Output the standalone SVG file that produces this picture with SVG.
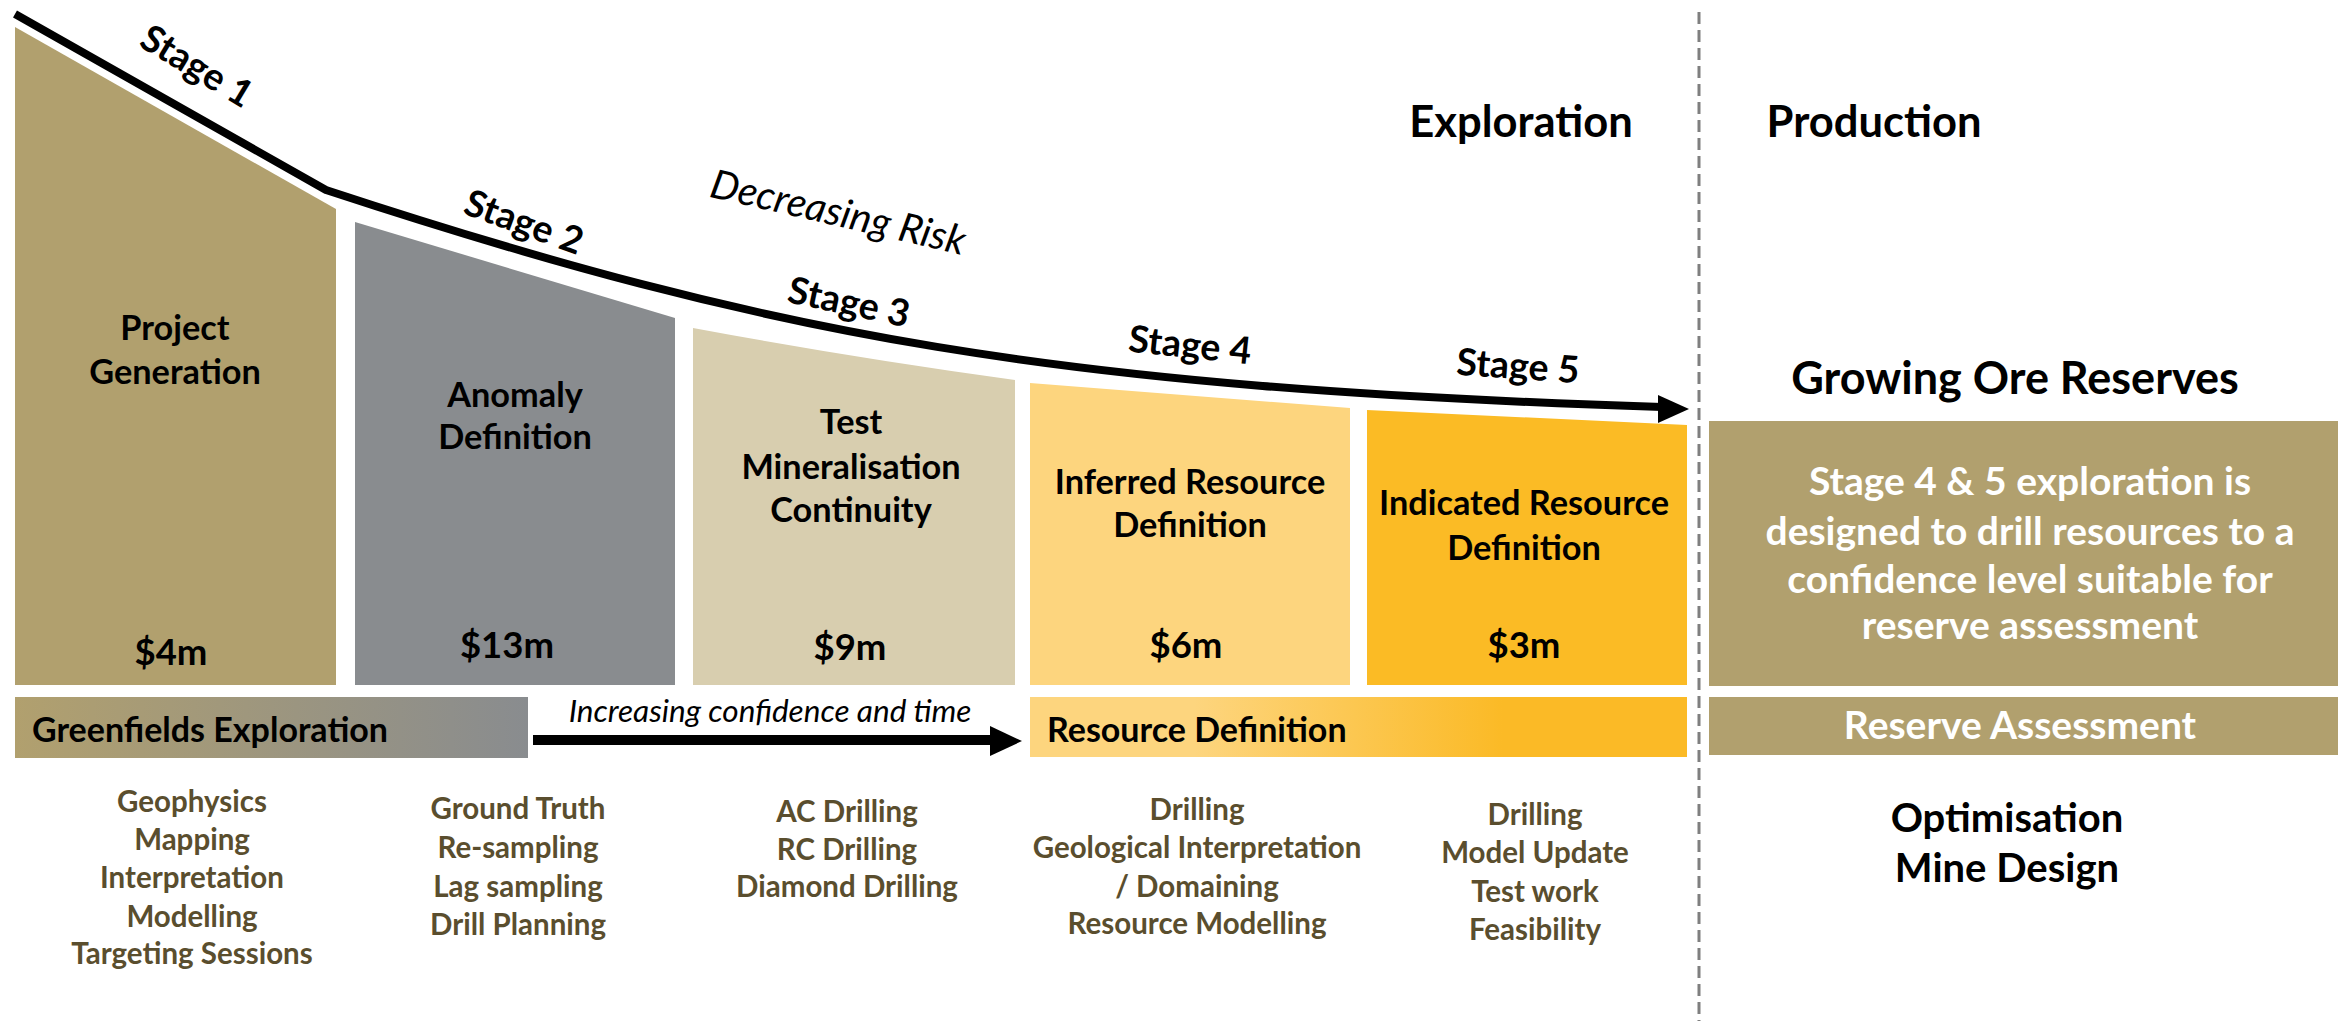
<svg xmlns="http://www.w3.org/2000/svg" width="2338" height="1021" viewBox="0 0 2338 1021">
<defs>
<linearGradient id="gGreen" x1="0" y1="0" x2="1" y2="0">
<stop offset="0" stop-color="#B1A06E"/>
<stop offset="1" stop-color="#898C8F"/>
</linearGradient>
<linearGradient id="gRes" x1="0" y1="0" x2="1" y2="0">
<stop offset="0" stop-color="#FDD57E"/>
<stop offset="0.25" stop-color="#FDD57E"/>
<stop offset="0.72" stop-color="#FBBA26"/>
<stop offset="1" stop-color="#FBBA26"/>
</linearGradient>
<style>
text{font-family:Lato,"Liberation Sans",sans-serif;font-weight:bold;text-anchor:middle;fill:#000}
.stage{font-size:37.5px}
.lbl{font-size:34.3px}
.money{font-size:36.5px}
.big{font-size:43.5px}
.band{font-size:34px;text-anchor:start}
.it{font-style:italic;font-weight:normal}
.list{font-size:29.5px;fill:#5A4E2E}
.wht{fill:#FFFFFF}
.box{font-size:39px}
.conn{fill:none;stroke:#000;stroke-width:8;stroke-linejoin:round}
</style>
</defs>
<rect width="2338" height="1021" fill="#FFFFFF"/>

<g id="stage1">
<path d="M15,27 L336,209 L336,685 L15,685 Z" fill="#B1A06E"/>
<text class="lbl" x="175" y="340">Project</text>
<text class="lbl" x="175" y="384">Generation</text>
<text class="money" x="171" y="665">$4m</text>
</g>
<g id="stage2">
<path d="M355,222 L675,318 L675,685 L355,685 Z" fill="#898C8F"/>
<text class="lbl" x="515" y="407">Anomaly</text>
<text class="lbl" x="515" y="449">Definition</text>
<text class="money" x="507" y="658">$13m</text>
</g>
<g id="stage3">
<path d="M693,328 Q854,358 1015,380 L1015,685 L693,685 Z" fill="#D8CEAF"/>
<text class="lbl" x="851" y="434">Test</text>
<text class="lbl" x="851" y="479">Mineralisation</text>
<text class="lbl" x="851" y="522">Continuity</text>
<text class="money" x="850" y="660">$9m</text>
</g>
<g id="stage4">
<path d="M1030,383 L1350,408 L1350,685 L1030,685 Z" fill="#FDD57E"/>
<text class="lbl" x="1190" y="494">Inferred Resource</text>
<text class="lbl" x="1190" y="537">Definition</text>
<text class="money" x="1186" y="658">$6m</text>
</g>
<g id="stage5">
<path d="M1367,410 L1687,425 L1687,685 L1367,685 Z" fill="#FBBB25"/>
<text class="lbl" x="1524" y="515">Indicated Resource</text>
<text class="lbl" x="1524" y="560">Definition</text>
<text class="money" x="1524" y="658">$3m</text>
</g>

<g id="stage-labels">
<text class="stage" transform="translate(197,66) rotate(31)" x="0" y="13">Stage 1</text>
<text class="stage" transform="translate(524,222) rotate(20)" x="0" y="13">Stage 2</text>
<text class="stage" transform="translate(849,302) rotate(12)" x="0" y="13">Stage 3</text>
<text class="stage" transform="translate(1190,345) rotate(6)" x="0" y="13">Stage 4</text>
<text class="stage" transform="translate(1518,366) rotate(4)" x="0" y="13">Stage 5</text>
<text class="it" style="font-size:40px" transform="translate(838,213) rotate(13)" x="0" y="13">Decreasing Risk</text>
</g>

<g id="greenfields">
<rect x="15" y="697" width="513" height="61" fill="url(#gGreen)"/>
<text class="band" x="32" y="742">Greenfields Exploration</text>
</g>
<g id="resource-definition">
<rect x="1030" y="697" width="657" height="60" fill="url(#gRes)"/>
<text class="band" x="1047" y="742">Resource Definition</text>
</g>

<g id="connectors">
<path class="conn" d="M15,14 L326,190 C776,338 1060,388 1662,407"/>
<polygon points="1658,395 1689,409 1658,423" fill="#000"/>
<rect x="533" y="735" width="460" height="10" fill="#000"/>
<polygon points="990,726 1022,741 990,756" fill="#000"/>
<line x1="1699" y1="12" x2="1699" y2="1021" stroke="#7F7F7F" stroke-width="3" stroke-dasharray="12 6"/>
</g>
<text class="it" style="font-size:31.5px" x="770" y="722">Increasing confidence and time</text>

<g id="headings">
<text class="big" x="1521" y="137">Exploration</text>
<text class="big" x="1874" y="137">Production</text>
<text style="font-size:45px" x="2015" y="394">Growing Ore Reserves</text>
</g>

<g id="reserve-box">
<rect x="1709" y="421" width="629" height="265" fill="#B1A06E"/>
<text class="wht box" x="2030" y="495">Stage 4 &amp; 5 exploration is</text>
<text class="wht box" x="2030" y="545">designed to drill resources to a</text>
<text class="wht box" x="2030" y="593">confidence level suitable for</text>
<text class="wht box" x="2030" y="639">reserve assessment</text>
</g>
<g id="reserve-assessment">
<rect x="1709" y="697" width="629" height="58" fill="#B1A06E"/>
<text class="wht" style="font-size:39px" x="2020" y="739">Reserve Assessment</text>
</g>
<g id="production-tasks">
<text style="font-size:40px" x="2007" y="832">Optimisation</text>
<text style="font-size:40px" x="2007" y="882">Mine Design</text>
</g>

<g id="list1">
<text class="list" x="192" y="812">Geophysics</text>
<text class="list" x="192" y="850">Mapping</text>
<text class="list" x="192" y="888">Interpretation</text>
<text class="list" x="192" y="927">Modelling</text>
<text class="list" x="192" y="964">Targeting Sessions</text>
</g>
<g id="list2">
<text class="list" x="518" y="819">Ground Truth</text>
<text class="list" x="518" y="858">Re-sampling</text>
<text class="list" x="518" y="897">Lag sampling</text>
<text class="list" x="518" y="935">Drill Planning</text>
</g>
<g id="list3">
<text class="list" x="847" y="822">AC Drilling</text>
<text class="list" x="847" y="860">RC Drilling</text>
<text class="list" x="847" y="897">Diamond Drilling</text>
</g>
<g id="list4">
<text class="list" x="1197" y="820">Drilling</text>
<text class="list" x="1197" y="858">Geological Interpretation</text>
<text class="list" x="1197" y="897">/ Domaining</text>
<text class="list" x="1197" y="934">Resource Modelling</text>
</g>
<g id="list5">
<text class="list" x="1535" y="825">Drilling</text>
<text class="list" x="1535" y="863">Model Update</text>
<text class="list" x="1535" y="902">Test work</text>
<text class="list" x="1535" y="940">Feasibility</text>
</g>
</svg>
